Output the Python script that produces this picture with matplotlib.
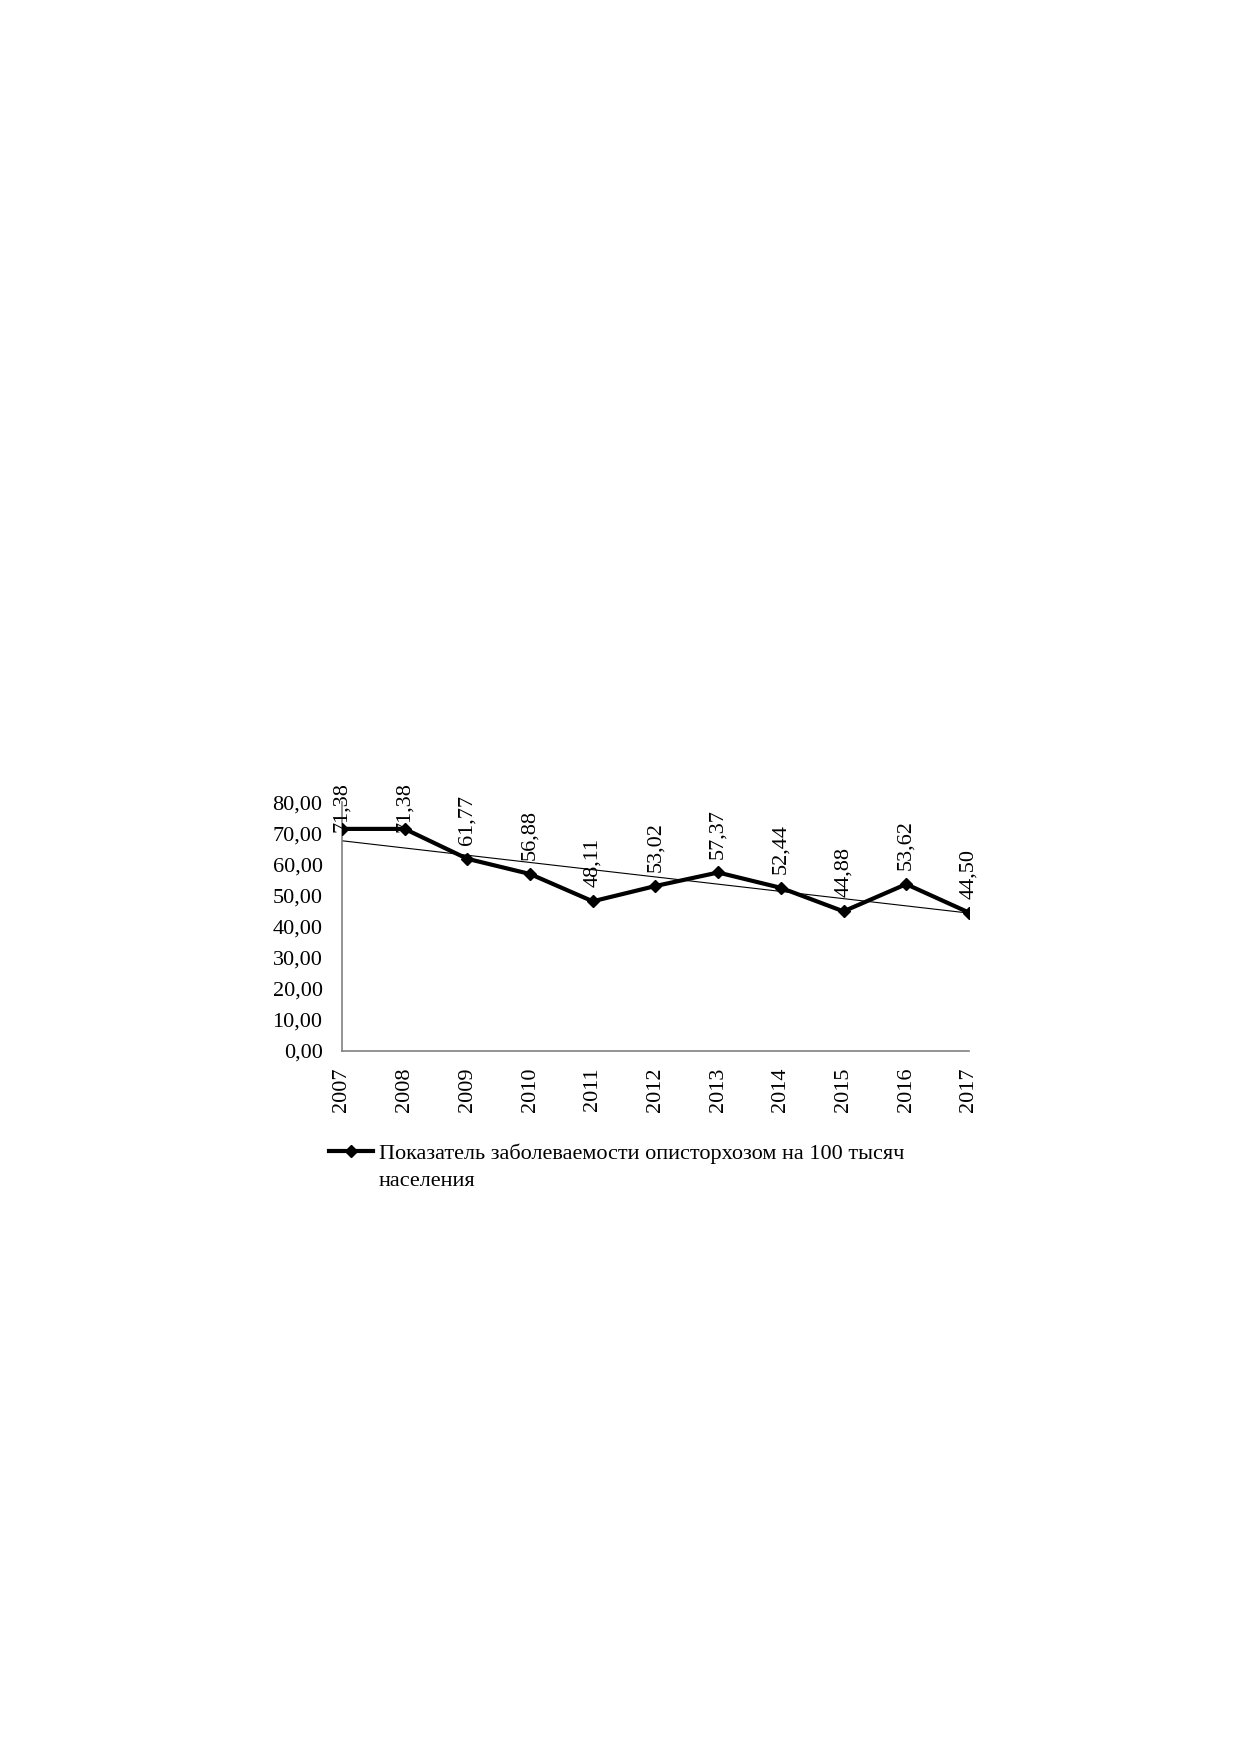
import numpy as np
import matplotlib
matplotlib.use("Agg")
import matplotlib.pyplot as plt
from matplotlib.lines import Line2D

years = [2007, 2008, 2009, 2010, 2011, 2012, 2013, 2014, 2015, 2016, 2017]
rate = [71.38, 71.38, 61.77, 56.88, 48.11, 53.02, 57.37, 52.44, 44.88, 53.62, 44.50]
yticks = [0, 10, 20, 30, 40, 50, 60, 70, 80]
legend_lines = ["Показатель заболеваемости описторхозом на 100 тысяч", "населения"]

plt.rcParams["font.family"] = ["Liberation Serif", "DejaVu Serif"]

fig = plt.figure(figsize=(12.39, 17.52), dpi=100)
ax = fig.add_axes([0.276, 0.4001, 0.506, 0.1421])

x = np.arange(len(years))
line, = ax.plot(x, rate, color="black", lw=3, marker="D", ms=6.5, zorder=3)

# linear trend
k, b = np.polyfit(x, rate, 1)
ax.plot(x, k * x + b, color="black", lw=0.8, zorder=2)

# labels above points; ones that would leave the plot area get pushed down (Excel-like)
for xi, v in zip(x, rate):
    txt = f"{v:.2f}".replace(".", ",")
    if v > 65:
        ax.annotate(txt, (xi, 80), xytext=(0, 14), textcoords="offset points",
                    rotation=90, ha="center", va="top", fontsize=16, zorder=4)
    else:
        ax.annotate(txt, (xi, v), xytext=(0, 10), textcoords="offset points",
                    rotation=90, ha="center", va="bottom", fontsize=16, zorder=4)

ax.set_xlim(0, len(years) - 1)
ax.set_ylim(0, 80)
ax.set_xticks(x)
ax.set_xticklabels([str(y) for y in years], rotation=90, fontsize=16)
ax.set_yticks(yticks)
ax.set_yticklabels([f"{t:.2f}".replace(".", ",") for t in yticks], fontsize=16)
ax.tick_params(length=0)
ax.tick_params(axis="y", pad=14)
ax.tick_params(axis="x", pad=12)
for s in ["top", "right"]:
    ax.spines[s].set_visible(False)
for s in ["left", "bottom"]:
    ax.spines[s].set_color("#808080")
    ax.spines[s].set_linewidth(1.2)
ax.patch.set_visible(False)

blank = Line2D([], [], color="none")
ax.legend([line, blank], legend_lines, loc="upper left",
          bbox_to_anchor=(0.249, 0.359), bbox_transform=fig.transFigure,
          frameon=False, fontsize=16, handlelength=2.0, handletextpad=0.27,
          labelspacing=0.3)

fig.savefig("out.png", dpi=100)
